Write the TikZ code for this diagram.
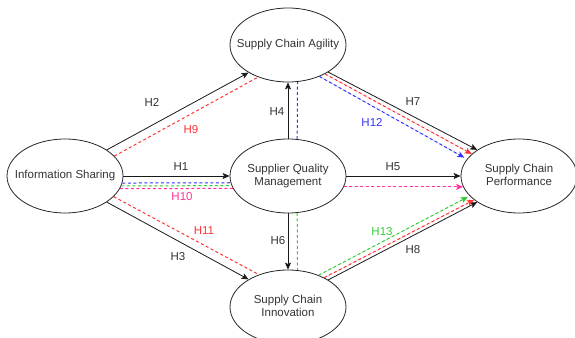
\documentclass[tikz,border=0pt]{standalone}
\usepackage{fontspec}
\setmainfont{Liberation Sans}
\usetikzlibrary{arrows.meta,shapes.geometric}
\definecolor{cred}{HTML}{FF3333}
\definecolor{cblue}{HTML}{3333FF}
\definecolor{cgreen}{HTML}{33CC33}
\definecolor{cpink}{HTML}{FF3399}
\definecolor{ctext}{HTML}{333333}
\begin{document}
\begin{tikzpicture}[x=1pt,y=-1pt,
  font=\fontsize{11.5}{13}\selectfont,
  ell/.style={ellipse, draw=black!85, line width=0.8pt, minimum width=116pt, minimum height=74pt, inner sep=0pt, text=ctext},
  conn/.style={line width=0.8pt, draw=black!90, -{Stealth[length=7pt,width=6pt,inset=1.5pt]}},
  dsh/.style={line width=1pt, dash pattern=on 3pt off 2.5pt},
  dsha/.style={dsh, -{Stealth[length=7pt,width=6pt,inset=1.5pt]}},
  lbl/.style={inner sep=1pt, text=ctext}]
\useasboundingbox (0,0) rectangle (575,337);

% nodes
\node[ell] (is)  at (65,176)  {\makebox[0pt]{Information Sharing}};
\node[ell] (sca) at (288,45)  {\makebox[0pt]{Supply Chain Agility}};
\node[ell] (sqm) at (288,176) {\makebox[0pt]{\begin{tabular}{@{}c@{}}Supplier Quality\\Management\end{tabular}}};
\node[ell] (sci) at (288,307) {\makebox[0pt]{\begin{tabular}{@{}c@{}}Supply Chain\\Innovation\end{tabular}}};
\node[ell] (scp) at (519,176) {\makebox[0pt]{\begin{tabular}{@{}c@{}}Supply Chain\\Performance\end{tabular}}};

% IS -> SCA
\draw[conn] (is.32) -- (sca.215);
\draw[dsh, draw=cred] (is.22) -- (sca.227);
% IS -> SQM
\draw[conn] (is.east) -- (sqm.west);
\draw[dsh, draw=cblue] (is.353) -- ([yshift=0.3pt]sqm.187);
\draw[dsh, draw=cgreen] (is.350) -- ([yshift=0.3pt]sqm.190);
\draw[dsh, draw=cpink] (is.347) -- ([yshift=0.3pt]sqm.193);
% IS -> SCI
\draw[conn] (is.328) -- (sci.145);
\draw[dsh, draw=cred] (is.337) -- (sci.132);
% SQM -> SCA
\draw[conn] (sqm.north) -- (sca.south);
\draw[dsh, draw=cblue] (sqm.76) -- ([xshift=0.3pt]sca.284);
% SQM -> SCI
\draw[conn] (sqm.south) -- (sci.north);
\draw[dsh, draw=cgreen] (sqm.284) -- ([xshift=0.3pt]sci.76);
% SQM -> SCP
\draw[conn] (sqm.east) -- (scp.west);
\draw[dsha, draw=cpink, fill=cpink] (sqm.349) -- (scp.191);
% SCA -> SCP
\draw[conn] (sca.326) -- (scp.148);
\draw[dsha, draw=cred, fill=cred] (sca.322) -- (scp.155);
\draw[dsha, draw=cblue, fill=cblue, shorten >=3pt] (sca.315) -- (scp.162);
% SCI -> SCP
\draw[conn] (sci.34) -- (scp.212);
\draw[dsha, draw=cred, fill=cred] (sci.39) -- (scp.208);
\draw[dsha, draw=cgreen, fill=cgreen, shorten >=2pt] (sci.46) -- (scp.202);

% labels
\node[lbl] (h1) at (181,167) {H1};
\node[lbl] (h2) at (152,102) {H2};
\node[lbl] (h3) at (178,257) {H3};
\node[lbl] (h4) at (277,112) {H4};
\node[lbl] (h5) at (393,167) {H5};
\node[lbl] (h6) at (278,241) {H6};
\node[lbl] (h7) at (413,102) {H7};
\node[lbl] (h8) at (413,250) {H8};
\node[lbl, text=cred] (h9) at (191,130) {H9};
\node[lbl, text=cpink] (h10) at (182,197) {H10};
\node[lbl, text=cred] (h11) at (204,231) {H11};
\node[lbl, text=cblue] (h12) at (372,122) {H12};
\node[lbl, text=cgreen] (h13) at (382,232) {H13};
\end{tikzpicture}
\end{document}
